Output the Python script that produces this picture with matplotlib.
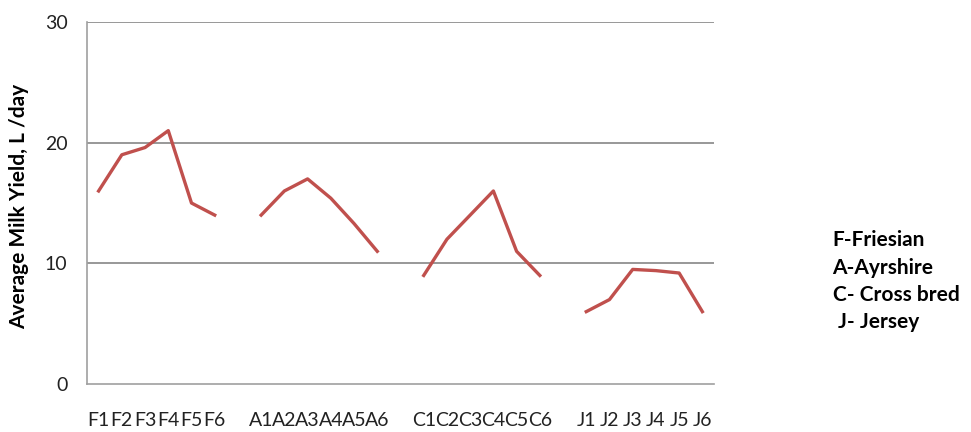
import numpy as np
import matplotlib.pyplot as plt

# categories (blank entries separate the breeds)
labels = ["F1", "F2", "F3", "F4", "F5", "F6", "",
          "A1", "A2", "A3", "A4", "A5", "A6", "",
          "C1", "C2", "C3", "C4", "C5", "C6", "",
          "J1", "J2", "J3", "J4", "J5", "J6"]

friesian = [16, 19, 19.6, 21, 15, 14]
ayrshire = [14, 16, 17, 15.4, 13.3, 11]
crossbred = [9, 12, 14, 16, 11, 9]
jersey = [6, 7, 9.5, 9.4, 9.2, 6]

legend_lines = ["F-Friesian", "A-Ayrshire", "C- Cross bred", "J- Jersey"]

gap = [np.nan]
values = friesian + gap + ayrshire + gap + crossbred + gap + jersey

plt.rcParams['font.family'] = ['Lato', 'DejaVu Sans']

fig = plt.figure(figsize=(9.71, 4.32), dpi=100)
ax = fig.add_axes([0.0896, 0.111, 0.6457, 0.838])

x = np.arange(len(labels))
ax.plot(x, values, color="#C0504D", lw=2.4, solid_joinstyle="round")

ax.set_xlim(-0.5, len(labels) - 0.5)
ax.set_ylim(0, 30)
ax.set_yticks([0, 10, 20, 30])
ax.set_xticks(x)
ax.set_xticklabels(labels)
ax.tick_params(length=0, labelsize=14, colors="#222222")
ax.tick_params(axis="x", pad=20)
ax.tick_params(axis="y", pad=14)

for y in [10, 20, 30]:
    ax.axhline(y, color="#868686", lw=1.2, zorder=0)

for s in ["top", "right"]:
    ax.spines[s].set_visible(False)
for s in ["left", "bottom"]:
    ax.spines[s].set_color("#A0A0A0")
    ax.spines[s].set_linewidth(1.2)

ax.set_ylabel("Average Milk Yield, L /day", fontsize=15, fontweight="bold")
ax.yaxis.set_label_coords((29 - 87) / 627, (384 - 206) / 362)

ys = [240, 268, 295, 322]
xs = [832, 832, 833, 838]
for t, px, py in zip(legend_lines, xs, ys):
    fig.text(px / 971, 1 - py / 432, t, fontsize=15, fontweight="bold",
             va="center", ha="left")

fig.savefig("out.png", dpi=100)
